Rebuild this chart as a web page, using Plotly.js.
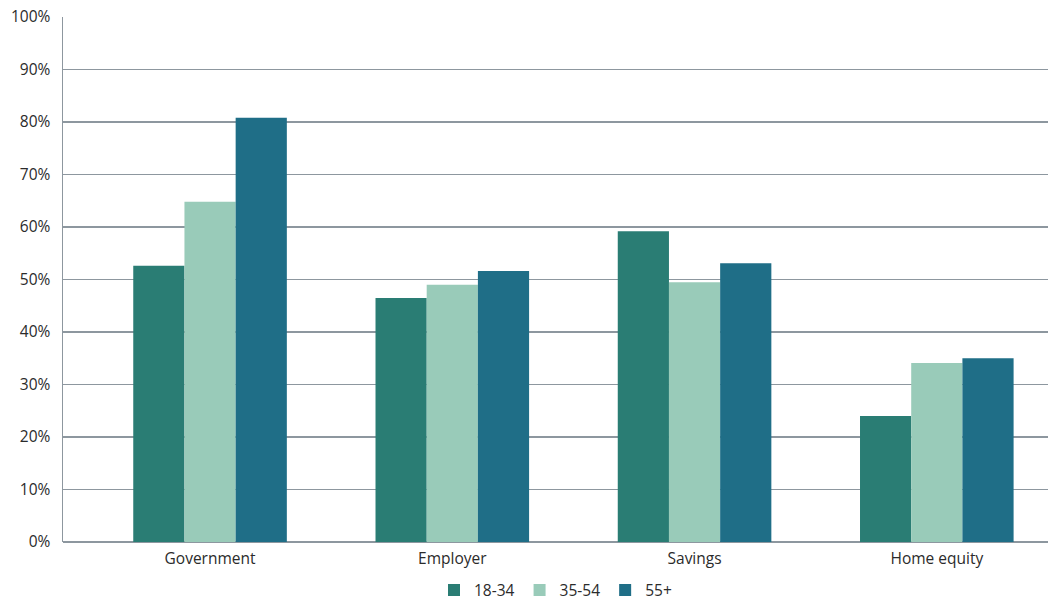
<!DOCTYPE html>
<html>
<head>
<meta charset="utf-8">
<script src="https://cdn.plot.ly/plotly-3.0.1.min.js"></script>
<style>html,body{margin:0;padding:0;background:#fff;}#chart{width:1048px;height:603px;}</style>
</head>
<body>
<div id="chart"></div>
<script>
const categories = ["Government", "Employer", "Savings", "Home equity"];
const seriesNames = ["18-34", "35-54", "55+"];
const age18_34 = [52.6, 46.5, 59.2, 24.0];
const age35_54 = [64.8, 49.0, 49.5, 34.1];
const age55plus = [80.8, 51.6, 53.1, 35.0];
const yTicks = [0, 10, 20, 30, 40, 50, 60, 70, 80, 90, 100];
const yTickLabels = yTicks.map(v => v + "%");

const colors = ["#2a7d74", "#99cbb9", "#1f6e87"];
const values = [age18_34, age35_54, age55plus];

const traces = values.map((v, i) => ({
  type: "bar",
  name: seriesNames[i],
  x: categories,
  y: v,
  marker: {color: colors[i], line: {width: 0}},
  hoverinfo: "skip"
}));

const layout = {
  width: 1048, height: 603,
  margin: {l: 63, r: 0, t: 17, b: 61, autoexpand: false},
  paper_bgcolor: "#fff", plot_bgcolor: "#fff",
  font: {family: "Open Sans, sans-serif", size: 15.5, color: "#2b2b2b"},
  barmode: "group",
  bargap: 0.366,
  bargroupgap: 0,
  showlegend: true,
  legend: {orientation: "h", x: 0.5, xanchor: "center", yref: "container", y: 0.021, yanchor: "middle",
           font: {size: 15.5, color: "#2b2b2b"}, itemwidth: 30, traceorder: "normal"},
  xaxis: {
    type: "category",
    range: [-0.607, 3.459],
    showgrid: false, zeroline: false,
    showline: false,
    ticks: "outside", ticklen: 2, tickcolor: "rgba(0,0,0,0)",
    tickfont: {size: 15.5, color: "#2b2b2b"}
  },
  yaxis: {
    range: [0, 100],
    tickvals: yTicks, ticktext: yTickLabels,
    showgrid: true, gridcolor: "#8d979f", gridwidth: 1.5,
    zeroline: true, zerolinecolor: "#8d979f", zerolinewidth: 1.5,
    showline: true, linecolor: "#8d979f", linewidth: 1.5,
    ticks: "outside", ticklen: 8, tickcolor: "rgba(0,0,0,0)",
    tickfont: {size: 15.5, color: "#2b2b2b"}
  }
};

Plotly.newPlot("chart", traces, layout, {displayModeBar: false, staticPlot: true});
</script>
</body>
</html>
